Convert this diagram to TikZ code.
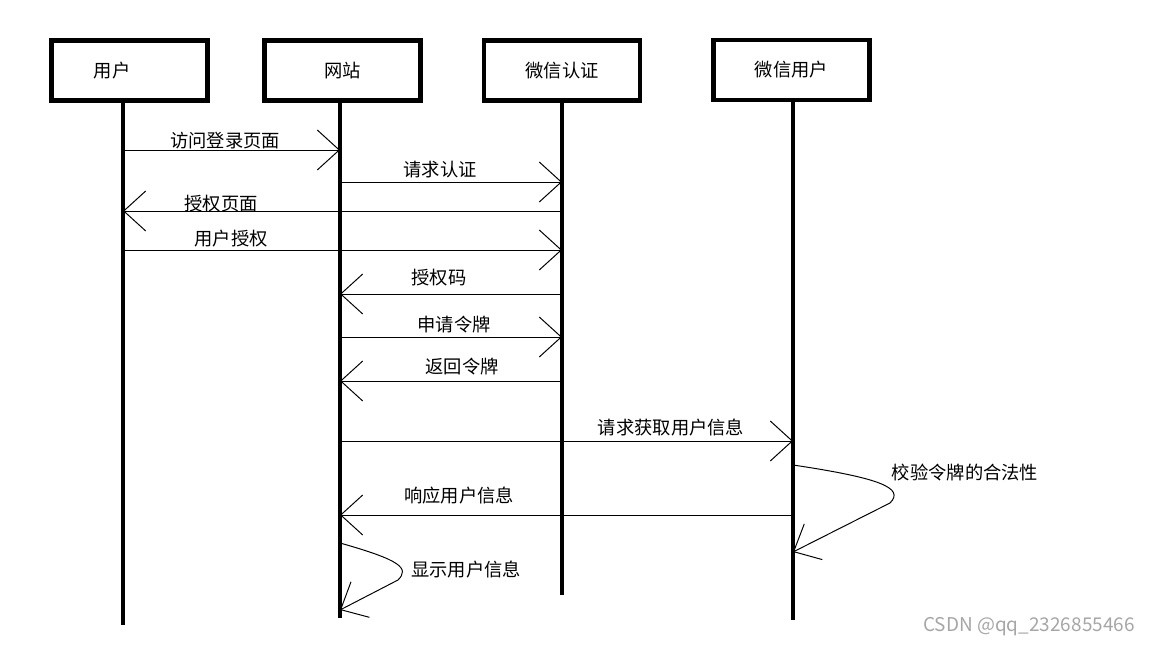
\documentclass[tikz,border=0pt]{standalone}
\usepackage{fontspec}
\setmainfont{Noto Sans CJK SC}
\usetikzlibrary{arrows.meta}

\tikzset{
  lanebox/.style={draw=black,line width=3.5pt,minimum width=3.9cm,minimum height=1.5cm,inner sep=0pt,font=\fontsize{13}{15}\selectfont},
  lifeline/.style={line width=3.5pt},
  msg/.style={line width=0.7pt,-{Straight Barb[length=0.55cm,width=1.0cm]}},
  msgtext/.style={inner sep=0pt,font=\fontsize{13}{15}\selectfont}
}

\begin{document}
\begin{tikzpicture}[x=0.025cm,y=-0.025cm]
\useasboundingbox (0,0) rectangle (1152,648);
% heads
\node[lanebox] (user) at (129.5,70.5) {};
\node[msgtext] (usertext) at (112,71) {用户};
\node[lanebox] (site) at (342.5,70.5) {网站};
\node[lanebox] (auth) at (562,70.5) {微信认证};
\node[lanebox] (wxuser) at (791.5,70) {微信用户};
% lifelines
\coordinate (userEnd) at (123,625);
\coordinate (siteEnd) at (340,618);
\coordinate (authEnd) at (562,595);
\coordinate (wxuserEnd) at (793,620);
\draw[lifeline] (user.south -| userEnd) -- (userEnd);
\draw[lifeline] (site.south -| siteEnd) -- (siteEnd);
\draw[lifeline] (auth.south -| authEnd) -- (authEnd);
\draw[lifeline] (wxuser.south -| wxuserEnd) -- (wxuserEnd);
% messages
\draw[msg] (userEnd |- 0,150) -- (siteEnd |- 0,150);
\node[msgtext] (m1) at (225,141) {访问登录页面};
\draw[msg] (siteEnd |- 0,182) -- (authEnd |- 0,182);
\node[msgtext] (m2) at (440,170) {请求认证};
\draw[msg] (authEnd |- 0,211) -- (userEnd |- 0,211);
\node[msgtext] (m3) at (221,204) {授权页面};
\draw[msg] (userEnd |- 0,250) -- (authEnd |- 0,250);
\node[msgtext] (m4) at (231,239) {用户授权};
\draw[msg] (authEnd |- 0,294) -- (siteEnd |- 0,294);
\node[msgtext] (m5) at (439,278) {授权码};
\draw[msg] (siteEnd |- 0,337) -- (authEnd |- 0,337);
\node[msgtext] (m6) at (454,325) {申请令牌};
\draw[msg] (authEnd |- 0,381) -- (siteEnd |- 0,381);
\node[msgtext] (m7) at (462,367) {返回令牌};
\draw[msg] (siteEnd |- 0,441) -- (wxuserEnd |- 0,441);
\node[msgtext] (m8) at (671,428) {请求获取用户信息};
\draw[msg] (wxuserEnd |- 0,465) .. controls (880,478) and (905,488) .. (890,503) -- (wxuserEnd |- 0,552);
\node[msgtext] (m9) at (965,473) {校验令牌的合法性};
\draw[msg] (wxuserEnd |- 0,515) -- (siteEnd |- 0,515);
\node[msgtext] (m10) at (459,496) {响应用户信息};
\draw[msg] (siteEnd |- 0,543) .. controls (400,560) and (410,568) .. (398,580) -- (siteEnd |- 0,610);
\node[msgtext] (m11) at (466,570) {显示用户信息};
% watermark
\node[inner sep=0pt,text=black!35,font=\fontsize{13.5}{15}\selectfont] (mark) at (1029,627) {CSDN @qq\_2326855466};
\end{tikzpicture}
\end{document}
